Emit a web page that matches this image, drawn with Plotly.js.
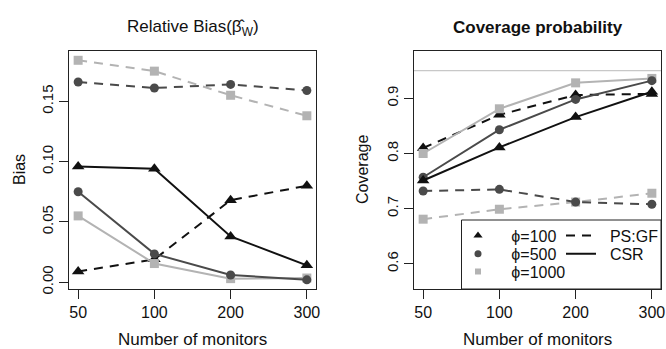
<!DOCTYPE html>
<html>
<head>
<meta charset="utf-8">
<script src="https://cdn.plot.ly/plotly-3.0.1.min.js"></script>
<style>html,body{margin:0;padding:0;background:#fff;}#chart{width:666px;height:349px;}</style>
</head>
<body>
<div id="chart"></div>
<script>
// ---- data ----
var monitors = ["50", "100", "200", "300"];
var biasPSGF100  = [0.009, 0.019, 0.068, 0.080];
var biasPSGF500  = [0.166, 0.161, 0.164, 0.159];
var biasPSGF1000 = [0.184, 0.175, 0.155, 0.138];
var biasCSR100   = [0.096, 0.094, 0.038, 0.014];
var biasCSR500   = [0.075, 0.0235, 0.006, 0.002];
var biasCSR1000  = [0.055, 0.0155, 0.003, 0.0035];
var covPSGF100   = [0.810, 0.870, 0.906, 0.908];
var covPSGF500   = [0.732, 0.735, 0.712, 0.708];
var covPSGF1000  = [0.681, 0.699, 0.712, 0.728];
var covCSR100    = [0.751, 0.811, 0.866, 0.912];
var covCSR500    = [0.757, 0.843, 0.898, 0.932];
var covCSR1000   = [0.800, 0.881, 0.928, 0.936];
var biasTicks = [0, 0.05, 0.10, 0.15];
var biasTickText = ["0.00", "0.05", "0.10", "0.15"];
var covTicks = [0.6, 0.7, 0.8, 0.9];
var covTickText = ["0.6", "0.7", "0.8", "0.9"];
var nominal = 0.95;
var phiLabels = ["ϕ=100", "ϕ=500", "ϕ=1000"];
var methodLabels = ["PS:GF", "CSR"];

var C100 = "#111111", C500 = "#4a4a4a", C1000 = "#b3b3b3";
var DASH = "9px,7px";
var FONT = "Liberation Sans, Arial, sans-serif";
var NB = "\u00a0";

function tr(x, y, color, sym, size, dash, ax) {
  return {
    x: x, y: y, type: "scatter", mode: "lines+markers",
    xaxis: ax === 2 ? "x2" : "x", yaxis: ax === 2 ? "y2" : "y",
    line: {color: color, width: 2, dash: dash},
    marker: {color: color, symbol: sym, size: size},
    showlegend: false, hoverinfo: "skip"
  };
}

var SQ = 9, CI = 9, TRI = 11;
var data = [
  tr(monitors, biasPSGF1000, C1000, "square", SQ, DASH, 1),
  tr(monitors, biasPSGF500, C500, "circle", CI, DASH, 1),
  tr(monitors, biasPSGF100, C100, "triangle-up", TRI, DASH, 1),
  tr(monitors, biasCSR1000, C1000, "square", SQ, "solid", 1),
  tr(monitors, biasCSR500, C500, "circle", CI, "solid", 1),
  tr(monitors, biasCSR100, C100, "triangle-up", TRI, "solid", 1),
  tr(monitors, covPSGF1000, C1000, "square", SQ, DASH, 2),
  tr(monitors, covPSGF500, C500, "circle", CI, DASH, 2),
  tr(monitors, covPSGF100, C100, "triangle-up", TRI, DASH, 2),
  tr(monitors, covCSR1000, C1000, "square", SQ, "solid", 2),
  tr(monitors, covCSR500, C500, "circle", CI, "solid", 2),
  tr(monitors, covCSR100, C100, "triangle-up", TRI, "solid", 2)
];

var W = 666, PT = 51, PB = 289, PH = PB - PT;
function px(x) { return x / W; }
function py(y) { return (PB - y) / PH; }

// legend entries: one legend per entry so rows can be spaced like the original
var legSyms = ["triangle-up", "circle", "square"];
var legCols = [C100, C500, C1000];
var legSizes = [8, 7, 6];
var rowTops = [218.5, 236.8, 254.6];
var legendDefs = {};
var LEGFONT = {family: FONT, size: 16, color: "#111"};
for (var i = 0; i < 3; i++) {
  var lid = "legend" + (i === 0 ? "" : (i + 1));
  data.push({x: [null], y: [null], type: "scatter", mode: "markers", xaxis: "x2", yaxis: "y2",
    name: NB + NB + NB + phiLabels[i], marker: {symbol: legSyms[i], color: legCols[i], size: legSizes[i]},
    showlegend: true, legend: lid, hoverinfo: "skip"});
  legendDefs[lid] = {x: px(458), xanchor: "left", y: py(rowTops[i]), yanchor: "top",
    bgcolor: "rgba(0,0,0,0)", font: LEGFONT, itemwidth: 30};
}
var legDash = [DASH, "solid"];
for (var j = 0; j < 2; j++) {
  var lid2 = "legend" + (j + 4);
  data.push({x: [null], y: [null], type: "scatter", mode: "lines", xaxis: "x2", yaxis: "y2",
    name: NB + NB + methodLabels[j], line: {color: C100, width: 2, dash: legDash[j]},
    showlegend: true, legend: lid2, hoverinfo: "skip"});
  legendDefs[lid2] = {x: px(561), xanchor: "left", y: py(rowTops[j]), yanchor: "top",
    bgcolor: "rgba(0,0,0,0)", font: LEGFONT, itemwidth: 30};
}

var xcommon = {
  type: "category", range: [-0.12, 3.12], showgrid: false, zeroline: false,
  showline: true, mirror: true, linecolor: "#222", linewidth: 1,
  ticks: "outside", ticklen: 9, tickcolor: "#222", tickwidth: 1,
  tickfont: {family: FONT, size: 16, color: "#111"}
};
var ycommon = {
  showgrid: false, zeroline: false, showline: true, mirror: true,
  linecolor: "#222", linewidth: 1, ticks: "outside", ticklen: 9,
  tickcolor: "#222", tickwidth: 1, tickangle: -90,
  tickfont: {family: FONT, size: 15, color: "#111"}, tickmode: "array"
};

var layout = {
  width: 666, height: 349,
  margin: {l: 0, r: 0, t: PT, b: 349 - PB},
  paper_bgcolor: "#fff", plot_bgcolor: "#fff",
  font: {family: FONT, color: "#111"},
  xaxis: Object.assign({}, xcommon, {domain: [px(69), px(316)], anchor: "y"}),
  yaxis: Object.assign({}, ycommon, {range: [-0.0056, 0.1917], tickvals: biasTicks, ticktext: biasTickText, anchor: "x"}),
  xaxis2: Object.assign({}, xcommon, {domain: [px(414), px(661)], anchor: "y2"}),
  yaxis2: Object.assign({}, ycommon, {range: [0.5545, 0.9857], tickvals: covTicks, ticktext: covTickText, anchor: "x2"}),
  showlegend: true,
  shapes: [
    {type: "line", xref: "x2 domain", yref: "y2", x0: 0, x1: 1, y0: nominal, y1: nominal,
      line: {color: "#c8c8c8", width: 1.3}, layer: "below"},
    {type: "rect", xref: "paper", yref: "paper", x0: px(461.5), x1: px(661), y0: 0, y1: py(220),
      line: {color: "#222", width: 1}, fillcolor: "rgba(0,0,0,0)"}
  ],
  annotations: [
    {text: "Relative Bias(β̂<sub>W</sub>)", xref: "paper", yref: "paper", x: px(193), y: py(28),
      xanchor: "center", yanchor: "middle", showarrow: false, font: {family: FONT, size: 17, color: "#111"}},
    {text: "<b>Coverage probability</b>", xref: "paper", yref: "paper", x: px(537.5), y: py(28),
      xanchor: "center", yanchor: "middle", showarrow: false, font: {family: FONT, size: 17, color: "#111"}},
    {text: "Bias", xref: "paper", yref: "paper", x: px(19), y: py(170), textangle: -90,
      xanchor: "center", yanchor: "middle", showarrow: false, font: {family: FONT, size: 16, color: "#111"}},
    {text: "Coverage", xref: "paper", yref: "paper", x: px(362), y: py(170), textangle: -90,
      xanchor: "center", yanchor: "middle", showarrow: false, font: {family: FONT, size: 16, color: "#111"}},
    {text: "Number of monitors", xref: "paper", yref: "paper", x: px(192.5), y: py(339.5),
      xanchor: "center", yanchor: "middle", showarrow: false, font: {family: FONT, size: 17, color: "#111"}},
    {text: "Number of monitors", xref: "paper", yref: "paper", x: px(537.5), y: py(339.5),
      xanchor: "center", yanchor: "middle", showarrow: false, font: {family: FONT, size: 17, color: "#111"}}
  ]
};
Object.assign(layout, legendDefs);

Plotly.newPlot("chart", data, layout, {displayModeBar: false, staticPlot: true});
</script>
</body>
</html>
